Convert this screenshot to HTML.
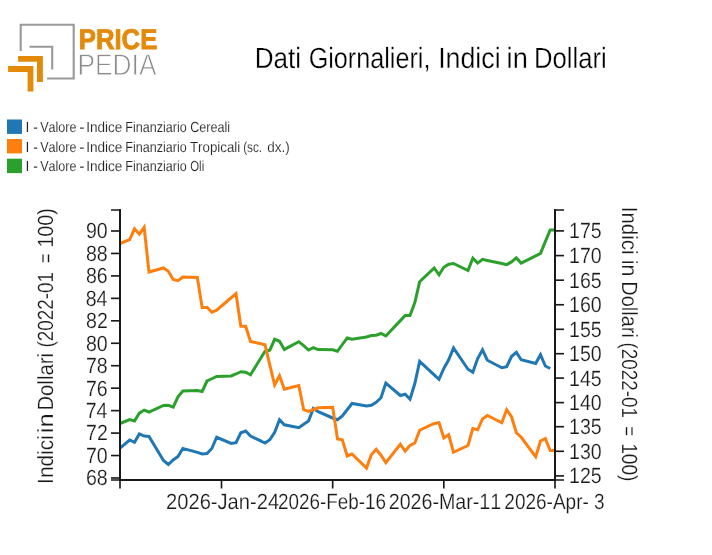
<!DOCTYPE html>
<html lang="it"><head><meta charset="utf-8"><title>Dati Giornalieri, Indici in Dollari</title>
<style>html,body{margin:0;padding:0;background:#fff}body{width:712px;height:555px;overflow:hidden}svg{display:block;will-change:transform}svg text{text-rendering:geometricPrecision}text{font-family:"Liberation Sans",sans-serif;fill:#1a1a1a;stroke:#fff;stroke-width:0.5px;font-kerning:none}</style></head><body>
<svg width="712" height="555" viewBox="0 0 712 555">
<rect width="712" height="555" fill="#fff"/>
<g style="will-change:opacity">
<g id="logo">
<path d="M20.7 51 V24.7 H73.7 V78.5 H47.1" fill="none" stroke="#999" stroke-width="2.1"/>
<path d="M29.5 46.8 H52.2 V69.6" fill="none" stroke="#999" stroke-width="2.1"/>
<path d="M18.1 56 H42.9 V81.9 H37 V61.8 H18.1 Z" fill="#e48a0a"/>
<path d="M8.1 66 H33.4 V91.5 H27.6 V72 H8.1 Z" fill="#e48a0a"/>
<text x="78.83" y="49.0" font-size="28.5" font-weight="700" textLength="78.42" lengthAdjust="spacingAndGlyphs" style="fill:#e48a0a;stroke:#e48a0a;stroke-width:0.9px">PRICE</text>
<text x="77.54" y="75.4" font-size="30.1" textLength="78.91" lengthAdjust="spacingAndGlyphs" style="fill:#8c8c8c;stroke:#fff;stroke-width:0.8px">PEDIA</text>
</g>
<text y="67.9" font-size="29.2" style="fill:#000;stroke-width:0.3px"><tspan x="254.66" textLength="46.40" lengthAdjust="spacingAndGlyphs">Dati</tspan> <tspan x="308.63" textLength="121.83" lengthAdjust="spacingAndGlyphs">Giornalieri,</tspan> <tspan x="438.13" textLength="62.47" lengthAdjust="spacingAndGlyphs">Indici</tspan> <tspan x="506.58" textLength="21.19" lengthAdjust="spacingAndGlyphs">in</tspan> <tspan x="534.10" textLength="72.63" lengthAdjust="spacingAndGlyphs">Dollari</tspan></text>
<rect x="7" y="119.5" width="15" height="14.4" fill="#1f77b4"/>
<rect x="7" y="139" width="15" height="14.4" fill="#ff7f0e"/>
<rect x="7" y="158.7" width="15" height="14.4" fill="#2ca02c"/>
<text y="132" font-size="14.6" style="fill:#262626;stroke-width:0.12px"><tspan x="25.62" textLength="12.29" lengthAdjust="spacingAndGlyphs">I -</tspan> <tspan x="40.19" textLength="36.36" lengthAdjust="spacingAndGlyphs">Valore</tspan> <tspan x="79.29" textLength="5.32" lengthAdjust="spacingAndGlyphs">-</tspan> <tspan x="86.15" textLength="36.26" lengthAdjust="spacingAndGlyphs">Indice</tspan> <tspan x="125.27" textLength="61.46" lengthAdjust="spacingAndGlyphs">Finanziario</tspan> <tspan x="190.16" textLength="39.89" lengthAdjust="spacingAndGlyphs">Cereali</tspan></text>
<text y="151.6" font-size="14.6" style="fill:#262626;stroke-width:0.12px"><tspan x="25.62" textLength="12.29" lengthAdjust="spacingAndGlyphs">I -</tspan> <tspan x="40.19" textLength="36.36" lengthAdjust="spacingAndGlyphs">Valore</tspan> <tspan x="79.29" textLength="5.32" lengthAdjust="spacingAndGlyphs">-</tspan> <tspan x="86.15" textLength="36.26" lengthAdjust="spacingAndGlyphs">Indice</tspan> <tspan x="125.27" textLength="61.46" lengthAdjust="spacingAndGlyphs">Finanziario</tspan> <tspan x="190.00" textLength="50.19" lengthAdjust="spacingAndGlyphs">Tropicali</tspan> <tspan x="243.17" textLength="18.90" lengthAdjust="spacingAndGlyphs">(sc.</tspan> <tspan x="267.34" textLength="22.40" lengthAdjust="spacingAndGlyphs">dx.)</tspan></text>
<text y="171.1" font-size="14.6" style="fill:#262626;stroke-width:0.12px"><tspan x="25.62" textLength="12.29" lengthAdjust="spacingAndGlyphs">I -</tspan> <tspan x="40.19" textLength="36.36" lengthAdjust="spacingAndGlyphs">Valore</tspan> <tspan x="79.29" textLength="5.32" lengthAdjust="spacingAndGlyphs">-</tspan> <tspan x="86.15" textLength="36.26" lengthAdjust="spacingAndGlyphs">Indice</tspan> <tspan x="125.27" textLength="61.46" lengthAdjust="spacingAndGlyphs">Finanziario</tspan> <tspan x="190.26" textLength="13.91" lengthAdjust="spacingAndGlyphs">Oli</tspan></text>
<g fill="none" stroke-width="3.0" stroke-linejoin="miter" stroke-linecap="butt">
<path d="M120.00 423.50 L129.67 419.60 L134.50 421.00 L139.33 413.20 L144.17 410.10 L149.00 412.00 L163.50 405.40 L168.33 405.30 L173.17 407.20 L178.00 396.75 L182.83 391.00 L197.33 390.50 L202.17 391.50 L207.00 381.00 L211.83 378.75 L216.67 376.50 L231.17 376.00 L236.00 374.00 L240.83 371.75 L245.67 372.25 L250.50 374.75 L265.00 351.25 L269.83 350.20 L274.67 339.30 L279.50 341.25 L284.33 349.40 L298.83 341.70 L303.67 345.60 L308.50 350.00 L313.33 347.75 L318.17 349.60 L332.67 349.75 L337.50 351.25 L342.33 344.50 L347.17 338.00 L352.00 339.25 L366.50 337.00 L371.33 335.50 L376.17 335.25 L381.00 333.50 L385.83 336.00 L400.33 320.60 L405.17 315.50 L410.00 315.50 L414.83 302.50 L419.67 281.75 L434.17 268.00 L439.00 274.75 L443.83 267.25 L448.67 264.25 L453.50 263.50 L468.00 270.50 L472.83 258.10 L477.67 263.10 L482.50 259.40 L487.33 260.44 L501.83 263.56 L506.67 264.60 L511.50 261.90 L516.33 257.90 L521.17 263.10 L535.67 255.90 L540.50 253.40 L545.33 241.60 L550.17 230.00 L555.00 230.00" stroke="#2ca02c"/>
<path d="M120.00 448.10 L129.67 440.00 L134.50 442.25 L139.33 433.90 L144.17 436.10 L149.00 436.50 L163.50 460.50 L168.33 464.50 L173.17 460.00 L178.00 456.50 L182.83 448.40 L197.33 452.40 L202.17 453.90 L207.00 453.50 L211.83 448.50 L216.67 437.25 L231.17 443.50 L236.00 442.75 L240.83 432.75 L245.67 431.00 L250.50 436.00 L265.00 443.00 L269.83 439.75 L274.67 432.25 L279.50 419.75 L284.33 424.75 L298.83 427.75 L303.67 424.25 L308.50 421.00 L313.33 408.50 L318.17 411.75 L332.67 418.00 L337.50 419.75 L342.33 416.00 L347.17 409.75 L352.00 403.50 L366.50 406.00 L371.33 405.25 L376.17 402.25 L381.00 397.75 L385.83 383.00 L400.33 395.50 L405.17 394.25 L410.00 399.25 L414.83 383.50 L419.67 361.50 L434.17 374.90 L439.00 379.25 L443.83 368.50 L448.67 359.75 L453.50 348.00 L468.00 369.25 L472.83 372.25 L477.67 358.50 L482.50 349.75 L487.33 360.25 L501.83 367.75 L506.67 366.75 L511.50 356.50 L516.33 352.25 L521.17 359.75 L535.67 363.50 L540.50 354.75 L545.33 366.00 L550.17 368.50" stroke="#1f77b4"/>
<path d="M120.00 243.50 L129.67 239.60 L134.50 228.80 L139.33 234.20 L144.17 227.30 L149.00 272.00 L163.50 268.00 L168.33 271.25 L173.17 279.50 L178.00 280.70 L182.83 277.00 L197.33 277.40 L202.17 307.70 L207.00 307.25 L211.83 312.25 L216.67 310.20 L231.17 297.75 L236.00 293.70 L240.83 326.25 L245.67 326.25 L250.50 341.50 L265.00 344.75 L269.83 365.10 L274.67 385.00 L279.50 375.80 L284.33 389.30 L298.83 385.50 L303.67 409.75 L308.50 411.50 L313.33 409.75 L318.17 407.75 L332.67 407.25 L337.50 439.00 L342.33 439.75 L347.17 456.00 L352.00 454.00 L366.50 468.00 L371.33 454.75 L376.17 449.25 L381.00 455.25 L385.83 462.75 L400.33 444.25 L405.17 451.00 L410.00 445.50 L414.83 443.00 L419.67 430.25 L434.17 423.50 L439.00 422.75 L443.83 438.00 L448.67 434.75 L453.50 452.25 L468.00 445.50 L472.83 428.50 L477.67 429.75 L482.50 419.00 L487.33 415.50 L501.83 422.75 L506.67 409.75 L511.50 416.75 L516.33 432.75 L521.17 437.25 L535.67 456.75 L540.50 441.00 L545.33 438.50 L550.17 450.50 L555.00 450.50" stroke="#ff7f0e"/>
</g>
<g stroke="#1a1a1a" stroke-width="1.65" fill="none">
<path d="M120 209.1 V480.9 M555 209.1 V480.9 M119.1 480 H555.9" stroke-width="2"/>
<path d="M111 477.99 H120"/>
<path d="M111 455.54 H120"/>
<path d="M111 433.09 H120"/>
<path d="M111 410.63 H120"/>
<path d="M111 388.18 H120"/>
<path d="M111 365.72 H120"/>
<path d="M111 343.27 H120"/>
<path d="M111 320.82 H120"/>
<path d="M111 298.36 H120"/>
<path d="M111 275.91 H120"/>
<path d="M111 253.45 H120"/>
<path d="M111 231.00 H120"/>
<path d="M111 210 H120 M111 480 H120"/>
<path d="M555 475.90 H564"/>
<path d="M555 451.30 H564"/>
<path d="M555 426.70 H564"/>
<path d="M555 402.60 H564"/>
<path d="M555 378.10 H564"/>
<path d="M555 353.70 H564"/>
<path d="M555 329.30 H564"/>
<path d="M555 304.75 H564"/>
<path d="M555 280.20 H564"/>
<path d="M555 255.60 H564"/>
<path d="M555 230.90 H564"/>
<path d="M555 210 H564 M555 480 H564"/>
<path d="M120.00 480 V488.5"/>
<path d="M221.50 480 V488.5"/>
<path d="M332.67 480 V488.5"/>
<path d="M443.83 480 V488.5"/>
<path d="M555.00 480 V488.5"/>
</g>
<text x="85.98" y="485.39" font-size="22" textLength="21.77" lengthAdjust="spacingAndGlyphs" style="stroke-width:0.2px">68</text>
<text x="85.90" y="462.94" font-size="22" textLength="21.77" lengthAdjust="spacingAndGlyphs" style="stroke-width:0.2px">70</text>
<text x="86.12" y="440.49" font-size="22" textLength="21.77" lengthAdjust="spacingAndGlyphs" style="stroke-width:0.2px">72</text>
<text x="85.71" y="418.03" font-size="22" textLength="21.77" lengthAdjust="spacingAndGlyphs" style="stroke-width:0.2px">74</text>
<text x="85.99" y="395.58" font-size="22" textLength="21.77" lengthAdjust="spacingAndGlyphs" style="stroke-width:0.2px">76</text>
<text x="85.98" y="373.12" font-size="22" textLength="21.77" lengthAdjust="spacingAndGlyphs" style="stroke-width:0.2px">78</text>
<text x="85.90" y="350.67" font-size="22" textLength="21.77" lengthAdjust="spacingAndGlyphs" style="stroke-width:0.2px">80</text>
<text x="86.12" y="328.22" font-size="22" textLength="21.77" lengthAdjust="spacingAndGlyphs" style="stroke-width:0.2px">82</text>
<text x="85.71" y="305.76" font-size="22" textLength="21.77" lengthAdjust="spacingAndGlyphs" style="stroke-width:0.2px">84</text>
<text x="85.99" y="283.31" font-size="22" textLength="21.77" lengthAdjust="spacingAndGlyphs" style="stroke-width:0.2px">86</text>
<text x="85.98" y="260.85" font-size="22" textLength="21.77" lengthAdjust="spacingAndGlyphs" style="stroke-width:0.2px">88</text>
<text x="85.90" y="238.40" font-size="22" textLength="21.77" lengthAdjust="spacingAndGlyphs" style="stroke-width:0.2px">90</text>
<text x="569.01" y="483.30" font-size="22" textLength="32.65" lengthAdjust="spacingAndGlyphs" style="stroke-width:0.2px">125</text>
<text x="569.01" y="458.70" font-size="22" textLength="32.65" lengthAdjust="spacingAndGlyphs" style="stroke-width:0.2px">130</text>
<text x="569.01" y="434.10" font-size="22" textLength="32.65" lengthAdjust="spacingAndGlyphs" style="stroke-width:0.2px">135</text>
<text x="569.01" y="410.00" font-size="22" textLength="32.65" lengthAdjust="spacingAndGlyphs" style="stroke-width:0.2px">140</text>
<text x="569.01" y="385.50" font-size="22" textLength="32.65" lengthAdjust="spacingAndGlyphs" style="stroke-width:0.2px">145</text>
<text x="569.01" y="361.10" font-size="22" textLength="32.65" lengthAdjust="spacingAndGlyphs" style="stroke-width:0.2px">150</text>
<text x="569.01" y="336.70" font-size="22" textLength="32.65" lengthAdjust="spacingAndGlyphs" style="stroke-width:0.2px">155</text>
<text x="569.01" y="312.15" font-size="22" textLength="32.65" lengthAdjust="spacingAndGlyphs" style="stroke-width:0.2px">160</text>
<text x="569.01" y="287.60" font-size="22" textLength="32.65" lengthAdjust="spacingAndGlyphs" style="stroke-width:0.2px">165</text>
<text x="569.01" y="263.00" font-size="22" textLength="32.65" lengthAdjust="spacingAndGlyphs" style="stroke-width:0.2px">170</text>
<text x="569.01" y="238.30" font-size="22" textLength="32.65" lengthAdjust="spacingAndGlyphs" style="stroke-width:0.2px">175</text>
<text x="166.09" y="509" font-size="22" textLength="113.00" lengthAdjust="spacingAndGlyphs" xml:space="preserve" style="stroke-width:0.2px">2026-Jan-24</text>
<text x="277.95" y="509" font-size="22" textLength="107.98" lengthAdjust="spacingAndGlyphs" xml:space="preserve" style="stroke-width:0.2px">2026-Feb-16</text>
<text x="388.71" y="509" font-size="22" textLength="112.45" lengthAdjust="spacingAndGlyphs" xml:space="preserve" style="stroke-width:0.2px">2026-Mar-11</text>
<text x="504.34" y="509" font-size="22" textLength="100.29" lengthAdjust="spacingAndGlyphs" xml:space="preserve" style="stroke-width:0.2px">2026-Apr- 3</text>
<text transform="translate(53.1,482) rotate(-90)" y="0" font-size="22" style="stroke-width:0.2px"><tspan x="-1.92" textLength="48.63" lengthAdjust="spacingAndGlyphs">Indici</tspan> <tspan x="48.68" textLength="19.99" lengthAdjust="spacingAndGlyphs">in</tspan> <tspan x="71.43" textLength="57.53" lengthAdjust="spacingAndGlyphs">Dollari</tspan> <tspan x="134.43" textLength="75.59" lengthAdjust="spacingAndGlyphs">(2022-01</tspan> <tspan x="219.03" textLength="9.26" lengthAdjust="spacingAndGlyphs">=</tspan> <tspan x="234.40" textLength="39.42" lengthAdjust="spacingAndGlyphs">100)</tspan></text>
<text transform="translate(622,208.6) rotate(90)" y="0" font-size="22" style="stroke-width:0.2px"><tspan x="-1.90" textLength="47.98" lengthAdjust="spacingAndGlyphs">Indici</tspan> <tspan x="51.17" textLength="16.61" lengthAdjust="spacingAndGlyphs">in</tspan> <tspan x="72.76" textLength="56.58" lengthAdjust="spacingAndGlyphs">Dollari</tspan> <tspan x="133.83" textLength="75.59" lengthAdjust="spacingAndGlyphs">(2022-01</tspan> <tspan x="217.91" textLength="9.50" lengthAdjust="spacingAndGlyphs">=</tspan> <tspan x="234.54" textLength="38.35" lengthAdjust="spacingAndGlyphs">100)</tspan></text>
</g>
</svg></body></html>
